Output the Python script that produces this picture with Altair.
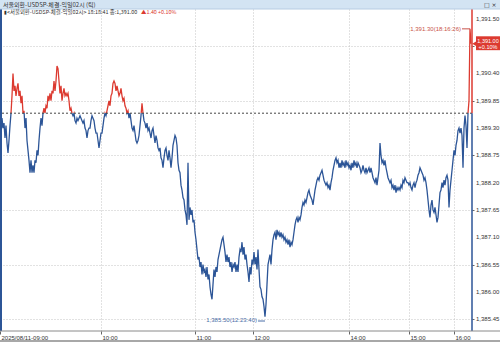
import altair as alt
import pandas as pd

# ---- data (tick chart, one value per tick) ----
prices = [
    1389.85, 1389.15, 1389.50, 1389.30, 1389.40, 1389.10, 1389.35, 1389.00, 1388.80, 1389.05,
    1389.35, 1389.60, 1389.95, 1390.40, 1390.05, 1390.15, 1389.95, 1390.10, 1390.20, 1389.95,
    1390.05, 1389.80, 1389.95, 1389.60, 1389.65, 1389.30, 1389.50, 1389.05, 1388.85, 1388.65,
    1388.40, 1388.65, 1388.40, 1388.55, 1388.40, 1388.65, 1388.60, 1388.85, 1388.75, 1389.05,
    1389.30, 1389.50, 1389.35, 1389.60, 1389.70, 1389.60, 1389.75, 1389.70, 1389.95, 1389.85,
    1390.00, 1389.85, 1390.05, 1390.00, 1390.25, 1390.05, 1390.25, 1390.55, 1390.50, 1390.25,
    1390.00, 1390.15, 1389.85, 1390.00, 1390.10, 1389.95, 1390.00, 1389.95, 1390.00, 1389.85,
    1389.65, 1389.70, 1389.60, 1389.55, 1389.60, 1389.45, 1389.40, 1389.50, 1389.45, 1389.50,
    1389.55, 1389.50, 1389.45, 1389.40, 1389.45, 1389.30, 1389.25, 1389.10, 1389.25, 1389.30,
    1389.30, 1389.45, 1389.55, 1389.50, 1389.45, 1389.30, 1389.20, 1389.20, 1389.05, 1388.90,
    1389.05, 1389.20, 1389.20, 1389.35, 1389.50, 1389.60, 1389.55, 1389.65, 1389.75, 1389.85,
    1389.75, 1389.95, 1390.00, 1390.20, 1390.25, 1390.20, 1390.05, 1390.15, 1390.05, 1389.95,
    1390.00, 1390.10, 1389.95, 1389.85, 1389.90, 1389.75, 1389.70, 1389.60, 1389.65, 1389.50,
    1389.60, 1389.45, 1389.30, 1389.25, 1389.35, 1389.20, 1389.05, 1389.00, 1389.05, 1389.15,
    1389.35, 1389.55, 1389.80, 1389.60, 1389.45, 1389.40, 1389.30, 1389.40, 1389.25, 1389.30,
    1389.20, 1389.10, 1389.25, 1389.30, 1389.15, 1389.00, 1389.15, 1389.05, 1388.90, 1388.85,
    1388.90, 1388.70, 1388.65, 1388.50, 1388.70, 1388.85, 1388.90, 1388.75, 1388.65, 1388.85,
    1388.70, 1388.50, 1388.70, 1388.95, 1389.05, 1389.15, 1389.10, 1388.95, 1388.60, 1388.45,
    1388.40, 1388.15, 1388.05, 1387.90, 1387.85, 1387.65, 1387.55, 1387.35, 1388.60, 1387.45,
    1387.70, 1387.55, 1387.65, 1387.40, 1387.45, 1387.20, 1387.05, 1386.85, 1386.65, 1386.70,
    1386.50, 1386.60, 1386.35, 1386.55, 1386.40, 1386.45, 1386.30, 1386.50, 1386.25, 1386.35,
    1386.10, 1385.95, 1385.85, 1386.15, 1386.45, 1386.30, 1386.50, 1386.40, 1386.65, 1386.75,
    1386.85, 1386.95, 1387.05, 1387.10, 1386.95, 1386.80, 1386.60, 1386.75, 1386.60, 1386.70,
    1386.50, 1386.60, 1386.40, 1386.55, 1386.50, 1386.60, 1386.40, 1386.55, 1386.40, 1386.70,
    1386.85, 1386.80, 1387.00, 1386.75, 1386.90, 1386.65, 1386.75, 1386.55, 1386.40, 1386.20,
    1386.50, 1386.35, 1386.65, 1386.55, 1386.80, 1386.55, 1386.70, 1386.45, 1386.85, 1386.45,
    1386.10, 1386.05, 1385.90, 1385.85, 1385.70, 1385.50, 1385.75, 1386.15, 1386.55, 1386.65,
    1386.75, 1386.55, 1386.85, 1387.05, 1387.15, 1387.20, 1387.05, 1387.25, 1387.15, 1387.20,
    1387.10, 1387.20, 1387.10, 1387.15, 1387.05, 1387.10, 1387.00, 1387.05, 1386.95, 1387.05,
    1386.90, 1387.00, 1386.95, 1387.05, 1387.20, 1387.35, 1387.45, 1387.50, 1387.40, 1387.50,
    1387.45, 1387.55, 1387.70, 1387.80, 1387.75, 1387.85, 1387.80, 1387.90, 1388.00, 1388.05,
    1387.95, 1387.90, 1387.85, 1387.75, 1387.90, 1388.05, 1388.15, 1388.25, 1388.30, 1388.25,
    1388.35, 1388.40, 1388.45, 1388.35, 1388.25, 1388.20, 1388.15, 1388.20, 1388.10, 1388.15,
    1388.05, 1388.20, 1388.30, 1388.45, 1388.55, 1388.65, 1388.70, 1388.60, 1388.65, 1388.50,
    1388.60, 1388.50, 1388.65, 1388.55, 1388.60, 1388.50, 1388.65, 1388.55, 1388.60, 1388.50,
    1388.55, 1388.45, 1388.60, 1388.50, 1388.65, 1388.55, 1388.60, 1388.50, 1388.60, 1388.55,
    1388.50, 1388.40, 1388.45, 1388.55, 1388.45, 1388.40, 1388.50, 1388.40, 1388.45, 1388.50,
    1388.40, 1388.50, 1388.40, 1388.30, 1388.25, 1388.20, 1388.30, 1388.15, 1388.30, 1388.45,
    1389.00, 1388.75, 1388.60, 1388.65, 1388.55, 1388.65, 1388.50, 1388.40, 1388.30, 1388.25,
    1388.20, 1388.25, 1388.10, 1388.15, 1388.05, 1388.15, 1388.00, 1388.10, 1388.05, 1388.10,
    1388.05, 1388.15, 1388.10, 1388.25, 1388.20, 1388.30, 1388.25, 1388.20, 1388.20, 1388.15,
    1388.20, 1388.10, 1388.05, 1388.15, 1388.20, 1388.10, 1388.20, 1388.25, 1388.35, 1388.40,
    1388.50, 1388.45, 1388.40, 1388.35, 1388.25, 1388.30, 1388.20, 1388.05, 1387.85, 1387.65,
    1387.50, 1387.75, 1387.85, 1387.65, 1387.60, 1387.70, 1387.55, 1387.40, 1387.50, 1387.75,
    1388.00, 1388.05, 1388.20, 1388.10, 1388.25, 1388.15, 1388.30, 1388.35, 1388.25, 1387.70,
    1388.05, 1388.25, 1388.45, 1388.65, 1388.85, 1388.75, 1388.95, 1389.05, 1389.25, 1389.30,
    1389.20, 1389.30, 1389.15, 1388.50, 1389.30, 1389.55, 1389.35, 1388.90, 1389.60, 1389.85,
    1391.30, 1391.00,
]
ticks = list(range(len(prices)))

prev_close = 1389.60
close_price = 1391.00
close_text = "1,391.00"
close_pct = "+0.10%"
high_price = 1391.30
high_label = "1,391.30(18:16:26)"
low_price = 1385.50
low_label = "1,385.50(12:23:40)"

y_ticks = [1385.45, 1386.00, 1386.55, 1387.10, 1387.65, 1388.20, 1388.75,
           1389.30, 1389.85, 1390.40, 1390.95, 1391.50]
x_tick_pos = [0, 101, 195, 253, 349, 409, 454]
x_tick_labels = ["2025/08/11-09:00", "10:00", "11:00", "12:00", "14:00", "15:00", "16:00"]

title_text = "서울외환-USDSP-체결-익일02시 (틱)"
info_text = "▮<서울외환-USDSP-체결-익일02시> 18:18:41 종:1,391.00"
info_change = "▲1.40 +0.10%"

# ---- styling ----
W, H = 472, 322
RED = "#dc3a30"
BLUE = "#2c5597"
NUMFONT = "Liberation Sans"
KFONT = "Noto Sans CJK KR"
Y_DOMAIN = [1385.21, 1391.70]

df = pd.DataFrame({"tick": ticks, "price": prices})
ydf = pd.DataFrame({"v": y_ticks, "label": [f"{v:,.2f}" for v in y_ticks]})

label_expr = " : ".join(
    f"datum.value == {p} ? '{t}'" for p, t in zip(x_tick_pos, x_tick_labels)
) + " : ''"

xscale = alt.Scale(domain=[0, W], nice=False, zero=False)
yscale = alt.Scale(domain=Y_DOMAIN, nice=False, zero=False)

pmax, pmin = max(prices), min(prices)
off = (pmax - prev_close) / (pmax - pmin)
grad = alt.Gradient(
    gradient="linear",
    stops=[alt.GradientStop(color=RED, offset=0),
           alt.GradientStop(color=RED, offset=off),
           alt.GradientStop(color=BLUE, offset=off),
           alt.GradientStop(color=BLUE, offset=1)],
    x1=0, x2=0, y1=0, y2=1,
)

line = alt.Chart(df).mark_line(stroke=grad, strokeWidth=1.3, clip=True).encode(
    x=alt.X("tick:Q", scale=xscale,
            axis=alt.Axis(values=x_tick_pos, labelExpr=label_expr, title=None,
                          grid=True, gridDash=[1, 2], gridColor="#c4c4c4",
                          domain=False, tickSize=3, tickColor="#666",
                          labelAlign="left", labelBaseline="top", labelPadding=0,
                          labelOffset=1, labelFont=NUMFONT, labelFontSize=6,
                          labelColor="#333", labelFlush=False, labelOverlap=False)),
    y=alt.Y("price:Q", scale=yscale,
            axis=alt.Axis(orient="right", values=y_ticks, labels=False, title=None,
                          grid=True, gridDash=[1, 2], gridColor="#c4c4c4",
                          domain=False, tickSize=2, tickColor="#666")),
)

ylabels = alt.Chart(ydf).mark_text(align="left", baseline="middle", font=NUMFONT,
                                   fontSize=6, color="#333").encode(
    x=alt.value(W + 4), y=alt.Y("v:Q", scale=yscale), text="label:N")

ref = alt.Chart().mark_rule(strokeDash=[2, 2], color="#444", strokeWidth=1).encode(
    y=alt.datum(prev_close, scale=yscale))

right_red = alt.Chart().mark_rule(color=RED, strokeWidth=1.5).encode(
    x=alt.value(W), y=alt.datum(Y_DOMAIN[1], scale=yscale), y2=alt.datum(prev_close))
right_blue = alt.Chart().mark_rule(color=BLUE, strokeWidth=1.5).encode(
    x=alt.value(W), y=alt.datum(prev_close, scale=yscale), y2=alt.datum(Y_DOMAIN[0]))
left_border = alt.Chart().mark_rule(color=BLUE, strokeWidth=2).encode(
    x=alt.value(1), y=alt.value(0), y2=alt.value(H))
bottom_line = alt.Chart().mark_rule(color="#8a8a8a", strokeWidth=1).encode(
    x=alt.value(0), x2=alt.value(500), y=alt.value(H))
bottom_bar = alt.Chart().mark_rule(color="#a8a8a8", strokeWidth=2).encode(
    x=alt.value(0), x2=alt.value(500), y=alt.value(H + 10))

# header bar
header = alt.Chart().mark_rect(color="#d3e4f3").encode(
    x=alt.value(0), x2=alt.value(500), y=alt.value(-9), y2=alt.value(0))
header_line = alt.Chart().mark_rule(color="#b6cde3").encode(
    x=alt.value(0), x2=alt.value(500), y=alt.value(0))
title = alt.Chart().mark_text(align="left", baseline="middle", font=KFONT,
                              fontSize=6, color="#333").encode(
    x=alt.value(3), y=alt.value(-4.5), text=alt.datum(title_text))
icons = alt.Chart().mark_text(align="left", baseline="middle", font="DejaVu Sans",
                              fontSize=6, color="#333").encode(
    x=alt.value(484), y=alt.value(-4.5), text=alt.datum("□ ×"))
info = alt.Chart().mark_text(align="left", baseline="middle", font=KFONT,
                             fontSize=5.4, color="#333").encode(
    x=alt.value(4), y=alt.value(3), text=alt.datum(info_text))
info_chg = alt.Chart().mark_text(align="left", baseline="middle", font=KFONT,
                                 fontSize=5.4, color=RED).encode(
    x=alt.value(141), y=alt.value(3), text=alt.datum(info_change))

# high / low annotations
hi_text = alt.Chart().mark_text(align="right", baseline="middle", font=NUMFONT,
                                fontSize=6, color="#c9534a").encode(
    x=alt.datum(461, scale=xscale), y=alt.datum(high_price, scale=yscale),
    text=alt.datum(high_label))
hi_lead = alt.Chart().mark_rule(color="#c9534a").encode(
    x=alt.datum(462, scale=xscale), x2=alt.datum(470),
    y=alt.datum(high_price, scale=yscale))
lo_text = alt.Chart().mark_text(align="right", baseline="middle", font=NUMFONT,
                                fontSize=6, color="#4a6ea8", dy=3).encode(
    x=alt.datum(257, scale=xscale), y=alt.datum(low_price, scale=yscale),
    text=alt.datum(low_label))
lo_lead = alt.Chart().mark_rule(color="#4a6ea8").encode(
    x=alt.datum(258, scale=xscale), x2=alt.datum(265),
    y=alt.value(H - 10))

# close price box on the right axis
box = alt.Chart().mark_rect(color=RED).encode(
    x=alt.value(W + 4), x2=alt.value(500),
    y=alt.datum(close_price + 0.15, scale=yscale), y2=alt.datum(close_price - 0.13))
box_tip = alt.Chart().mark_point(shape="triangle-left", filled=True, color=RED,
                                 size=40, opacity=1).encode(
    x=alt.value(W + 3), y=alt.datum(close_price, scale=yscale))
box_t1 = alt.Chart().mark_text(align="center", baseline="middle", font=NUMFONT,
                               fontSize=5.5, color="white", dy=-3).encode(
    x=alt.value(W + 16), y=alt.datum(close_price, scale=yscale), text=alt.datum(close_text))
box_t2 = alt.Chart().mark_text(align="center", baseline="middle", font=NUMFONT,
                               fontSize=5.5, color="white", dy=3.5).encode(
    x=alt.value(W + 16), y=alt.datum(close_price, scale=yscale), text=alt.datum(close_pct))

chart = alt.layer(
    line, ylabels, ref, right_red, right_blue, left_border, bottom_line, bottom_bar,
    header, header_line, title, icons, info, info_chg,
    hi_lead, hi_text, lo_lead, lo_text, box, box_tip, box_t1, box_t2,
).properties(
    width=W, height=H,
    autosize=alt.AutoSizeParams(type="none"),
    padding={"left": 0, "top": 9, "right": 28, "bottom": 11},
    background="white",
).configure_view(stroke=None)

chart.save("out.html", embed_options={"renderer": "svg", "actions": False})
